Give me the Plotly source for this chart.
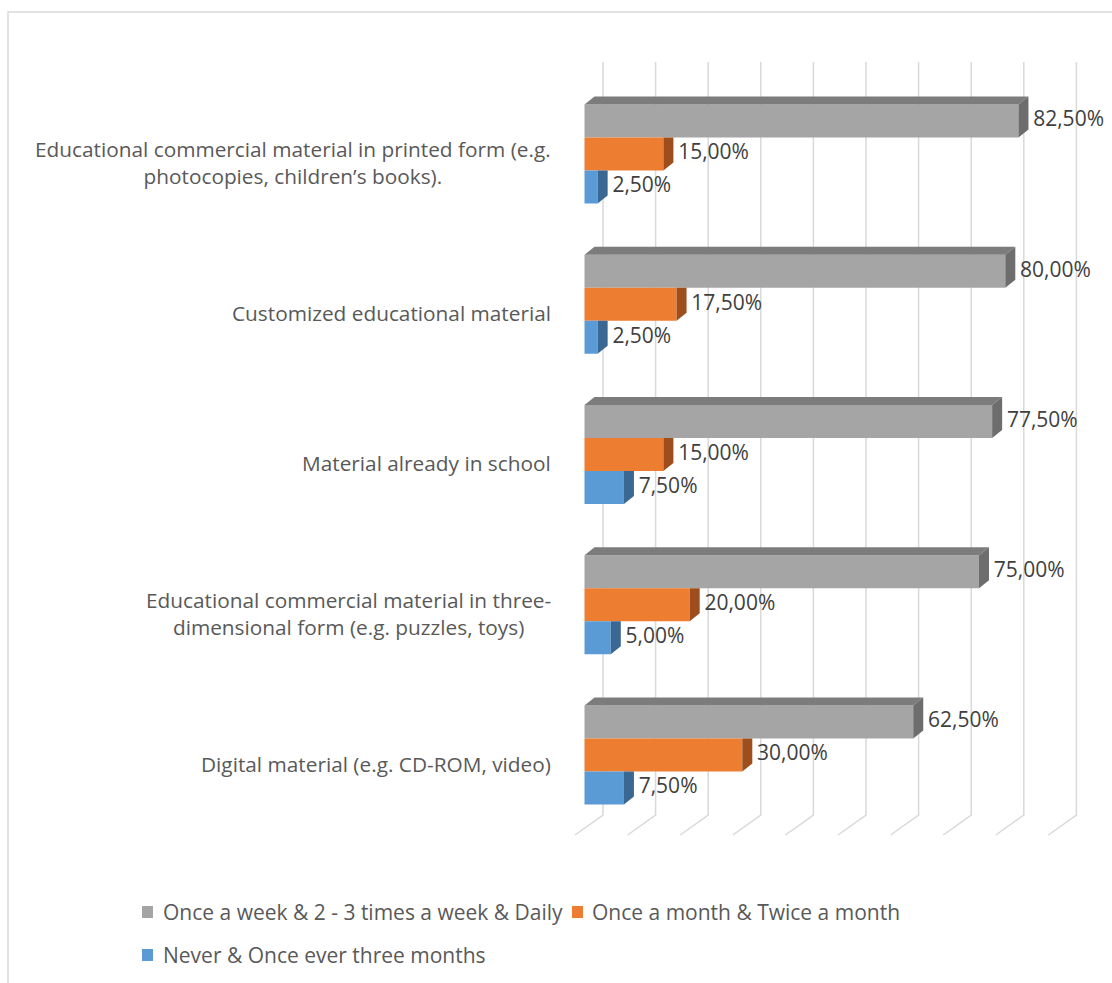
import plotly.graph_objects as go

# --- data -----------------------------------------------------------------
categories = [
    "Educational commercial material in printed form (e.g.<br>photocopies, children’s books).",
    "Customized educational material",
    "Material already in school",
    "Educational commercial material in three-<br>dimensional form (e.g. puzzles, toys)",
    "Digital material (e.g. CD-ROM, video)",
]
series_names = [
    "Once a week & 2 - 3 times a week & Daily",
    "Once a month & Twice a month",
    "Never & Once ever three months",
]
weekly_daily = [82.5, 80.0, 77.5, 75.0, 62.5]
monthly = [15.0, 17.5, 15.0, 20.0, 30.0]
rarely = [2.5, 2.5, 7.5, 5.0, 7.5]
gridline_values = [0, 10, 20, 30, 40, 50, 60, 70, 80, 90]

series_values = [weekly_daily, monthly, rarely]
front_colors = ["#A5A5A5", "#ED7D31", "#5B9BD5"]
side_colors = ["#6D6D6D", "#9E4E1C", "#3A6893"]
top_color = "#7C7C7C"

# --- geometry (pixel scale -> axis units) ----------------------------------
W, H = 1112, 983
PX_PER_PCT = 5.26          # horizontal pixels per percentage point
ZERO_PX = 584.5            # pixel column of the 0 % front plane
PX_PER_GROUP = 150.25      # vertical pixels between categories
FIRST_GROUP_PX = 154.0     # pixel row of the first category centre

bar_h = 33.0 / PX_PER_GROUP            # thickness of one bar
depth_dx = 10.0 / PX_PER_PCT           # 3-D depth, horizontal part
depth_dy = 8.0 / PX_PER_GROUP          # 3-D depth, vertical part
back_dx = 18.5 / PX_PER_PCT            # back wall offset
floor_dx = -9.5 / PX_PER_PCT           # front edge of the floor
wall_top = (62 - FIRST_GROUP_PX) / PX_PER_GROUP
floor_back = (815 - FIRST_GROUP_PX) / PX_PER_GROUP
floor_front = (835 - FIRST_GROUP_PX) / PX_PER_GROUP

x_range = [-ZERO_PX / PX_PER_PCT, (W - ZERO_PX) / PX_PER_PCT]
y_range = [(H - FIRST_GROUP_PX) / PX_PER_GROUP, -FIRST_GROUP_PX / PX_PER_GROUP]

fig = go.Figure()

# side and top faces of the bars (drawn before the front faces)
for s, vals in enumerate(series_values):
    offset = (s - 1) * bar_h
    for i, v in enumerate(vals):
        yc = i + offset
        top, bot = yc - bar_h / 2, yc + bar_h / 2
        if s == 0:
            # top face
            fig.add_trace(go.Scatter(
                x=[0, v, v + depth_dx, depth_dx, 0],
                y=[top, top, top - depth_dy, top - depth_dy, top],
                fill="toself", fillcolor=top_color, mode="lines",
                line=dict(width=0, color=top_color),
                hoverinfo="skip", showlegend=False))
            side_y = [top, bot, bot - depth_dy, top - depth_dy, top]
        else:
            side_y = [top, bot, bot - depth_dy, top, top]
        fig.add_trace(go.Scatter(
            x=[v, v, v + depth_dx, v + depth_dx, v],
            y=side_y,
            fill="toself", fillcolor=side_colors[s], mode="lines",
            line=dict(width=0, color=side_colors[s]),
            hoverinfo="skip", showlegend=False))

# front faces
for s, vals in enumerate(series_values):
    offset = (s - 1) * bar_h
    fig.add_trace(go.Bar(
        name=series_names[s],
        orientation="h",
        x=vals,
        y=[i + offset for i in range(len(vals))],
        width=bar_h,
        base=0,
        marker=dict(color=front_colors[s], line=dict(width=0)),
        showlegend=False,
        hovertemplate="%{x:.2f}%<extra>" + series_names[s] + "</extra>",
    ))

# value labels
for s, vals in enumerate(series_values):
    offset = (s - 1) * bar_h
    fig.add_trace(go.Scatter(
        x=[v + depth_dx + 0.9 for v in vals],
        y=[i + offset for i in range(len(vals))],
        mode="text",
        text=[f"{v:.2f}".replace(".", ",") + "%" for v in vals],
        textposition="middle right",
        textfont=dict(family="Open Sans", size=21, color="#404040"),
        hoverinfo="skip", showlegend=False, cliponaxis=False,
    ))

# back wall gridlines with their floor segments
shapes = []
for g in gridline_values:
    shapes.append(dict(
        type="path", xref="x", yref="y", layer="below",
        path=(f"M {g + back_dx},{wall_top} L {g + back_dx},{floor_back} "
              f"L {g + floor_dx},{floor_front}"),
        line=dict(color="#D9D9D9", width=1.5),
    ))

# chart border
shapes.append(dict(
    type="rect", xref="paper", yref="paper",
    x0=8 / W, x1=1.05, y0=-0.05, y1=1 - 12 / H,
    line=dict(color="#D9D9D9", width=1.5), fillcolor="rgba(0,0,0,0)",
    layer="below",
))

# category labels (multi-line labels centred line by line)
annotations = []
label_x = (553 - ZERO_PX) / PX_PER_PCT
label_shift = 8.5 / PX_PER_GROUP
for i, cat in enumerate(categories):
    annotations.append(dict(
        x=label_x, y=i + label_shift, xref="x", yref="y",
        text=cat, showarrow=False, xanchor="right", yanchor="middle",
        align="center",
        font=dict(family="Open Sans", size=20.8, color="#595959"),
    ))

# legend (squares + names)
legend_items = [
    (0, 142, 161, 912),
    (1, 572, 590, 912),
    (2, 142, 161, 955),
]
for s, sq_x, txt_x, row_y in legend_items:
    shapes.append(dict(
        type="rect", xref="paper", yref="paper",
        x0=sq_x / W, x1=(sq_x + 11) / W,
        y0=1 - (row_y + 6) / H, y1=1 - (row_y - 6) / H,
        fillcolor=front_colors[s], line=dict(width=0),
    ))
    annotations.append(dict(
        x=txt_x / W, y=1 - row_y / H, xref="paper", yref="paper",
        text=series_names[s], showarrow=False, xanchor="left", yanchor="middle",
        font=dict(family="Open Sans", size=21, color="#595959"),
    ))

fig.update_layout(
    width=W, height=H, autosize=False,
    margin=dict(l=0, r=0, t=0, b=0),
    paper_bgcolor="white", plot_bgcolor="white",
    barmode="overlay",
    showlegend=False,
    xaxis=dict(range=x_range, visible=False, fixedrange=True),
    yaxis=dict(range=y_range, visible=False, fixedrange=True),
    shapes=shapes,
    annotations=annotations,
)

fig.write_html("out.html")
